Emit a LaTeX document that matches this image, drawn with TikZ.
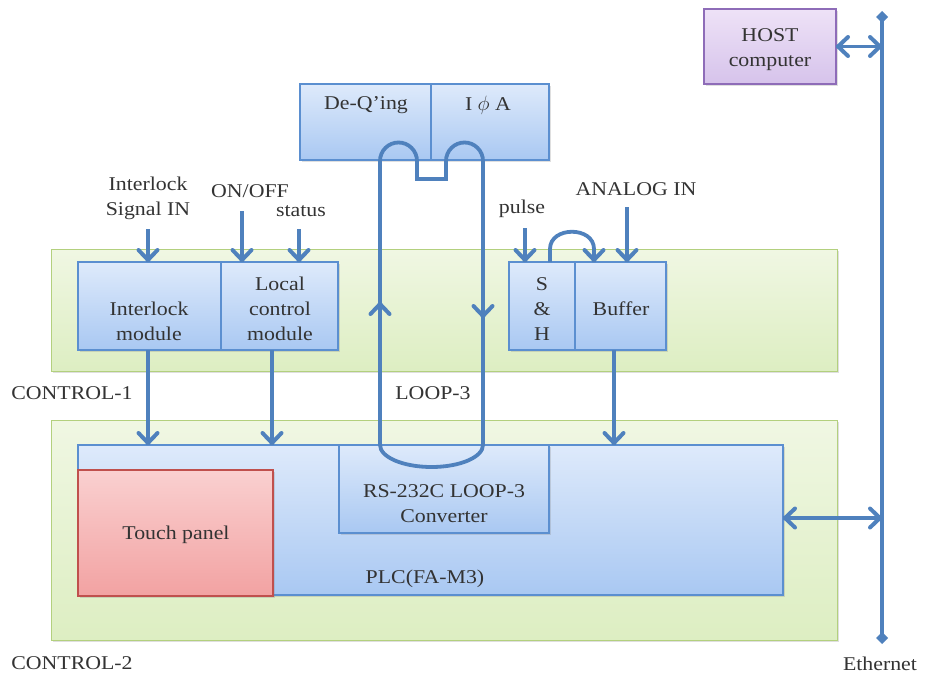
\documentclass[tikz,border=0pt]{standalone}
\usepackage{fontspec}
\setmainfont[FakeStretch=1.12]{Liberation Serif}
\usetikzlibrary{arrows.meta,shadows,decorations.markings}
\definecolor{lineblue}{HTML}{4F81BD}
\definecolor{boxtop}{HTML}{DEEAFB}
\definecolor{boxbot}{HTML}{A9C8F2}
\definecolor{boxedge}{HTML}{5B8FD0}
\definecolor{gtop}{HTML}{F0F7E3}
\definecolor{gbot}{HTML}{DDEEC2}
\definecolor{gedge}{HTML}{B3D07E}
\definecolor{ptop}{HTML}{FAD0D0}
\definecolor{pbot}{HTML}{F2A2A2}
\definecolor{pedge}{HTML}{C0504D}
\definecolor{vtop}{HTML}{EEE2F7}
\definecolor{vbot}{HTML}{D6C3EB}
\definecolor{vedge}{HTML}{8E6CB8}
\definecolor{txt}{HTML}{333333}
\tikzset{
  every node/.style={font=\fontsize{19.5}{25}\selectfont, text=txt},
  shad/.style={drop shadow={opacity=0.25, shadow xshift=2pt, shadow yshift=-2pt}},
  blk/.style={draw=boxedge, line width=1.2pt, top color=boxtop, bottom color=boxbot,
    anchor=north west, inner sep=0pt, outer sep=0pt, align=center, shad},
  grn/.style={draw=gedge, line width=1pt, top color=gtop, bottom color=gbot,
    anchor=north west, inner sep=0pt, outer sep=0pt, shad},
  pnk/.style={blk, draw=pedge, top color=ptop, bottom color=pbot},
  vio/.style={blk, draw=vedge, top color=vtop, bottom color=vbot},
  lbl/.style={inner sep=0pt, align=center},
  barbhead/.style={draw=lineblue, line width=4pt, line cap=round, line join=round},
  conn/.style={draw=lineblue, line width=3.8pt, postaction={decorate},
    decoration={markings, mark=at position 1 with {\draw[barbhead] (-12pt,9.5pt) -- (-2pt,0pt) -- (-12pt,-9.5pt);}}},
  dconn/.style={draw=lineblue, line width=3.8pt, postaction={decorate},
    decoration={markings,
      mark=at position 0 with {\draw[barbhead] (12pt,9.5pt) -- (2pt,0pt) -- (12pt,-9.5pt);},
      mark=at position 1 with {\draw[barbhead] (-12pt,9.5pt) -- (-2pt,0pt) -- (-12pt,-9.5pt);}}},
  loopline/.style={draw=lineblue, line width=3.8pt},
  ethline/.style={draw=lineblue, line width=3.8pt, {Diamond[length=12pt,width=12pt]}-{Diamond[length=12pt,width=12pt]}},
}
\begin{document}
\begin{tikzpicture}[x=1pt,y=-1pt]
\useasboundingbox (0,0) rectangle (929,675);

% green containers
\node[grn, minimum width=786pt, minimum height=122pt] (c1) at (51,249) {};
\node[grn, minimum width=786pt, minimum height=220pt] (c2) at (51,420) {};

% control-1 blocks
\node[blk, minimum width=143pt, minimum height=88pt] (il) at (78,262) {};
\node[blk, minimum width=117pt, minimum height=88pt] (lc) at (221,262) {};
\node[blk, minimum width=66pt, minimum height=88pt] (sh) at (509,262) {};
\node[blk, minimum width=91pt, minimum height=88pt] (buf) at (575,262) {};
\node[lbl] (ilt) at (149,321) {Interlock\\module};
\node[lbl] (lct) at (280,309) {Local\\control\\module};
\node[lbl] (sht) at (542,309) {S\\\&\\H};
\node[lbl] (buft) at (621,309) {Buffer};

% control-2 blocks
\node[blk, minimum width=705pt, minimum height=150pt] (plc) at (78,445) {};
\node[lbl] (plct) at (425,579) {PLC(FA-M3)};
\node[pnk, minimum width=195pt, minimum height=126pt] (tp) at (78,470) {};
\node[lbl] (tpt) at (176,535) {Touch panel};
\node[blk, minimum width=210pt, minimum height=88pt] (rs) at (339,445) {};
\node[lbl] (rst) at (444,504) {RS-232C LOOP-3\\Converter};

% top blocks
\node[blk, minimum width=131pt, minimum height=76pt] (dq) at (300,84) {};
\node[blk, minimum width=118pt, minimum height=76pt] (ia) at (431,84) {};
\node[lbl] (dqt) at (366,105) {De-Q’ing};
\node[lbl] (iat) at (488,105) {I $\phi$ A};
\node[vio, minimum width=132pt, minimum height=75pt] (host) at (704,9) {};
\node[lbl] (hostt) at (770,50) {HOST\\computer};

% labels
\node[lbl] (sigin) at (148,198) {Interlock\\Signal IN};
\node[lbl] (onoff) at (250,191) {ON/OFF};
\node[lbl] (status) at (301,211) {status};
\node[lbl] (pulse) at (522,209) {pulse};
\node[lbl] (analog) at (636,189) {ANALOG IN};
\node[lbl] (ctl1) at (72,393) {CONTROL-1};
\node[lbl] (loop3) at (433,393) {LOOP-3};
\node[lbl] (ctl2) at (72,663) {CONTROL-2};
\node[lbl] (eth) at (880,664) {Ethernet};

% input arrows
\coordinate (aSig) at (148,229);
\coordinate (aOn) at (242,211);
\coordinate (aSt) at (299,229);
\coordinate (aPu) at (525,228);
\coordinate (aAn) at (627,207);
\draw[conn] (aSig) -- (aSig |- il.north);
\draw[conn] (aOn) -- (aOn |- lc.north);
\draw[conn] (aSt) -- (aSt |- lc.north);
\draw[conn] (aPu) -- (aPu |- sh.north);
\draw[conn] (aAn) -- (aAn |- buf.north);
\coordinate (shA) at (550,262);
\coordinate (shB) at (594,262);
\draw[conn] (shA) -- (550,249) .. controls (550,226) and (594,226) .. (594,249) -- (shB);

% down arrows
\coordinate (d1) at (148,350);
\coordinate (d2) at (272,350);
\coordinate (d3) at (614,350);
\draw[conn] (d1) -- (d1 |- plc.north);
\draw[conn] (d2) -- (d2 |- plc.north);
\draw[conn] (d3) -- (d3 |- plc.north);

% Ethernet
\coordinate (ethT) at (882,11);
\coordinate (ethB) at (882,644);
\draw[ethline] (ethT) -- (ethB);
\draw[dconn] (host.east) -- (host.east -| ethT);
\coordinate (plcE) at (783,518);
\draw[dconn] (plcE) -- (plcE -| ethT);

% LOOP-3
\draw[loopline] (380,445) -- (380,161) arc[start angle=180,end angle=360,radius=18.5]
  -- (417,179) -- (446,179) -- (446,161) arc[start angle=180,end angle=360,radius=18.5]
  -- (483,445) arc[start angle=0,end angle=180,x radius=51.5,y radius=22] -- cycle;
\coordinate (lupA) at (380,330);
\coordinate (lupB) at (380,302);
\coordinate (ldnA) at (483,290);
\coordinate (ldnB) at (483,318);
\draw[conn] (lupA) -- (lupB);
\draw[conn] (ldnA) -- (ldnB);
\end{tikzpicture}
\end{document}
